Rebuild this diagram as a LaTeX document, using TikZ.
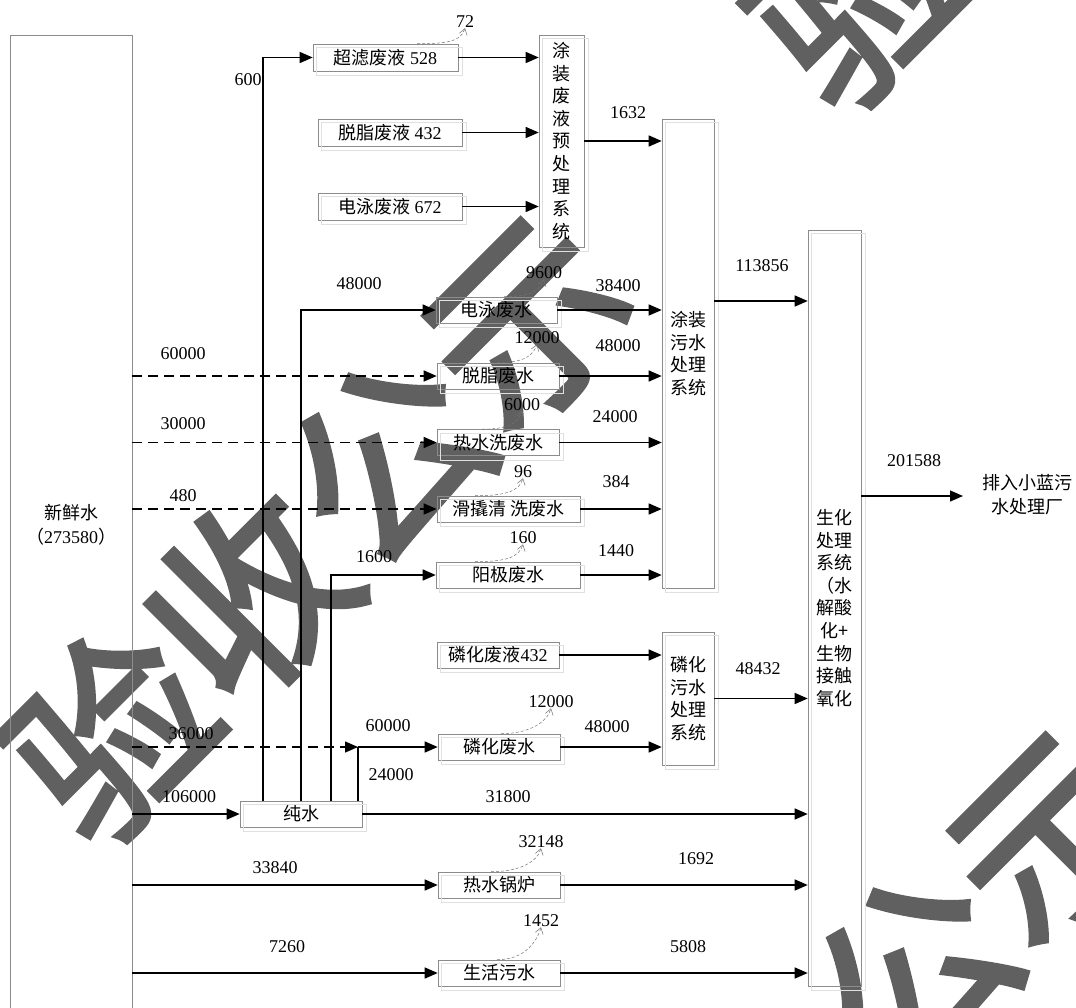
\documentclass[tikz,border=0pt]{standalone}
\usepackage{fontspec}
\setmainfont{Liberation Serif}
\newfontfamily\cjk{Noto Sans CJK SC}
\newfontfamily\wmfont{Noto Sans CJK SC}[FakeBold=2.5]
\usetikzlibrary{arrows.meta}
\definecolor{wmgray}{HTML}{606060}
\tikzset{
  box/.style={draw=black!45, line width=0.6pt, inner sep=0pt, align=center,
    font=\cjk\fontsize{18}{22.6}\selectfont},
  wbox/.style={box, minimum width=122pt, minimum height=26pt},
  lbl/.style={inner sep=0pt, font=\fontsize{18}{20}\selectfont},
  flow/.style={line width=1.4pt, -{Triangle[length=13pt,width=11pt]}},
  fresh/.style={flow, dash pattern=on 10pt off 6pt},
  loss/.style={black!55, line width=0.5pt, dash pattern=on 3pt off 2pt,
    -{Straight Barb[length=6pt,width=8pt]}},
  ghost/.style={black!12, line width=0.6pt},
  wmark/.style={text=wmgray, rotate=45, inner sep=0pt,
    font=\wmfont\fontsize{195}{195}\selectfont}
}

\begin{document}
\begin{tikzpicture}[x=1pt, y=-1pt]
\useasboundingbox (0,0) rectangle (1076,1007);
% watermark
\node[wmark] (wm1) at (318,527) {验收公示};
\node[wmark] (wm2) at (1062,-207) {验收公示};
\node[wmark] (wm3) at (843,1042) {验收公示};
% source
\node[box, minimum width=122pt, minimum height=979pt, font=\cjk\fontsize{18}{24}\selectfont]
  (src) at (71,524.5) {新鲜水\\（{\rmfamily 273580}）};
% pretreated liquids
\node[box, minimum width=145pt, minimum height=27pt] (uf) at (385.5,57.5) {超滤废液 {\rmfamily 528}};
\node[box, minimum width=144pt, minimum height=27pt] (dg) at (390,132.5) {脱脂废液 {\rmfamily 432}};
\node[box, minimum width=144pt, minimum height=27pt] (ep) at (390,206.5) {电泳废液 {\rmfamily 672}};
\node[box, minimum width=45pt, minimum height=212pt] (pre) at (561.5,141)
  {涂\\装\\废\\液\\预\\处\\理\\系\\统};
% treatment systems
\node[box, minimum width=52pt, minimum height=469pt] (coat) at (688,353.5) {涂装\\污水\\处理\\系统};
\node[box, minimum width=52pt, minimum height=133pt] (phos) at (688,698.5) {磷化\\污水\\处理\\系统};
\node[box, minimum width=53pt, minimum height=756pt] (bio) at (834.5,608)
  {生化\\处理\\系统\\（水\\解酸\\化+\\生物\\接触\\氧化};
\node[box, draw=none, font=\cjk\fontsize{18}{24}\selectfont] (out) at (1027,495) {排入小蓝污\\水处理厂};
% waste water
\node[wbox, minimum width=121pt] (w1) at (496.5,310) {电泳废水};
\node[wbox] (w2) at (498,376) {脱脂废水};
\node[wbox] (w3) at (498,442.5) {热水洗废水};
\node[wbox, minimum width=143pt] (w4) at (508.5,509) {滑撬清 洗废水};
\node[wbox, minimum width=144pt] (w5) at (508,575) {阳极废水};
\node[wbox] (pl) at (498,655) {磷化废液{\rmfamily 432}};
\node[wbox] (pw) at (499,747) {磷化废水};
\node[wbox] (pure) at (301,814) {纯水};
\node[wbox] (boil) at (499,885) {热水锅炉};
\node[wbox] (dom) at (499,973) {生活污水};
\foreach \b in {uf,dg,ep,pre,coat,phos,bio,w1,w2,w3,w4,w5,pl,pw,pure,boil,dom}
  \draw[ghost] ([shift={(4,4)}]\b.south west) rectangle ([shift={(4,4)}]\b.north east);

% flow values
\node[lbl] (l600) at (248,80) {600};
\node[lbl] (l72) at (465,22) {72};
\node[lbl] (l1632) at (628,113) {1632};
\node[lbl] (l113856) at (762,266) {113856};
\node[lbl] (l201588) at (914,461) {201588};
\node[lbl] (l48000a) at (359,284) {48000};
\node[lbl] (l60000a) at (183,354) {60000};
\node[lbl] (l30000) at (183,424) {30000};
\node[lbl] (l480) at (183,496) {480};
\node[lbl] (l9600) at (544,273) {9600};
\node[lbl] (l12000a) at (537,338) {12000};
\node[lbl] (l6000) at (522,405) {6000};
\node[lbl] (l96) at (523,472) {96};
\node[lbl] (l160) at (523,538) {160};
\node[lbl] (l38400) at (618,286) {38400};
\node[lbl] (l48000b) at (618,346) {48000};
\node[lbl] (l24000a) at (615,417) {24000};
\node[lbl] (l384) at (616,482) {384};
\node[lbl] (l1440) at (616,551) {1440};
\node[lbl] (l1600) at (374,557) {1600};
\node[lbl] (l48432) at (758,669) {48432};
\node[lbl] (l12000b) at (551,702) {12000};
\node[lbl] (l48000c) at (607,727) {48000};
\node[lbl] (l36000) at (191,734) {36000};
\node[lbl] (l60000b) at (388,726) {60000};
\node[lbl] (l24000b) at (391,775) {24000};
\node[lbl] (l106000) at (189,797) {106000};
\node[lbl] (l31800) at (508,797) {31800};
\node[lbl] (l32148) at (541,842) {32148};
\node[lbl] (l33840) at (275,868) {33840};
\node[lbl] (l1692) at (696,859) {1692};
\node[lbl] (l1452) at (541,921) {1452};
\node[lbl] (l7260) at (287,947) {7260};
\node[lbl] (l5808) at (688,947) {5808};

% pure water trunks
\coordinate (jn) at (358,747);
\draw[flow] ([xshift=-38pt]pure.north) |- (uf.west);
\draw[flow] (pure.north) |- (w1.west);
\draw[flow] ([xshift=30pt]pure.north) |- (w5.west);
\draw[line width=1.4pt] (jn |- pure.north) -- (jn);
\draw[flow] (jn) -- (pw.west);
% fresh water
\draw[fresh] (src.east |- w2.west) -- (w2.west);
\draw[fresh] (src.east |- w3.west) -- (w3.west);
\draw[fresh] (src.east |- w4.west) -- (w4.west);
\draw[fresh] (src.east |- jn) -- (jn);
\foreach \b in {pure,boil,dom}
  \draw[flow] (src.east |- \b.west) -- (\b.west);
% to treatment
\foreach \b in {uf,dg,ep}
  \draw[flow] (\b.east) -- (\b.east -| pre.west);
\draw[flow] (pre.east) -- (pre.east -| coat.west);
\foreach \b in {w1,w2,w3,w4,w5}
  \draw[flow] (\b.east) -- (\b.east -| coat.west);
\foreach \b in {pl,pw}
  \draw[flow] (\b.east) -- (\b.east -| phos.west);
\coordinate (c1) at ([yshift=52.5pt]coat.east);
\draw[flow] (c1) -- (c1 -| bio.west);
\draw[flow] (phos.east) -- (phos.east -| bio.west);
\foreach \b in {pure,boil,dom}
  \draw[flow] (\b.east) -- (\b.east -| bio.west);
\coordinate (c2) at ([yshift=112pt]bio.east);
\coordinate (dst) at (963,496);
\draw[flow] (c2) -- (dst);
% losses
\draw[loss] ([xshift=-48pt]l72.south |- uf.north) .. controls +(28,0) and +(-4,14) .. (l72.south);
\draw[loss] ([xshift=-40pt]l9600.south |- w1.north) .. controls +(26,0) and +(-4,12) .. (l9600.south);
\draw[loss] ([xshift=-40pt]l12000a.south |- w2.north) .. controls +(26,0) and +(-4,12) .. (l12000a.south);
\draw[loss] ([xshift=-40pt]l6000.south |- w3.north) .. controls +(26,0) and +(-4,12) .. (l6000.south);
\draw[loss] ([xshift=-48pt]l96.south |- w4.north) .. controls +(28,0) and +(-4,14) .. (l96.south);
\draw[loss] ([xshift=-48pt]l160.south |- w5.north) .. controls +(28,0) and +(-4,14) .. (l160.south);
\draw[loss] ([xshift=-50pt]l12000b.south |- pw.north) .. controls +(28,0) and +(-4,14) .. (l12000b.south);
\draw[loss] ([xshift=-50pt]l32148.south |- boil.north) .. controls +(28,0) and +(-4,14) .. (l32148.south);
\draw[loss] ([xshift=-44pt]l1452.south |- dom.north) .. controls +(28,0) and +(-4,14) .. (l1452.south);
\end{tikzpicture}
\end{document}
